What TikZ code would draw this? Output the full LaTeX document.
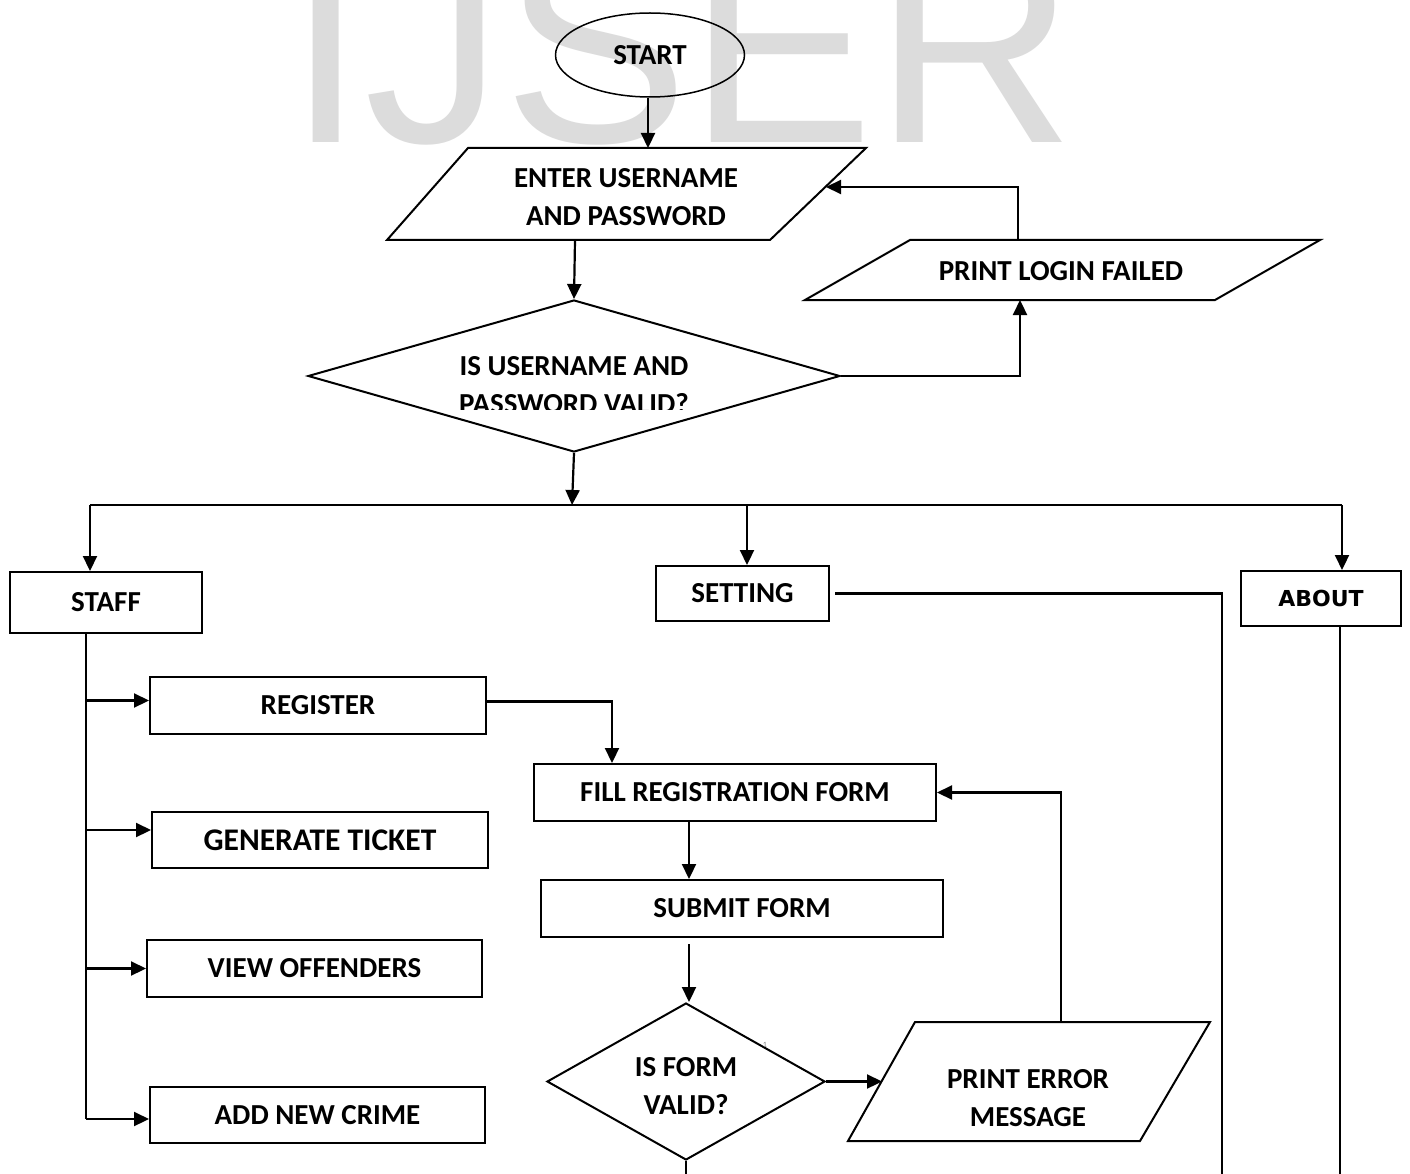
\documentclass[tikz,border=0pt]{standalone}
\usepackage{fontspec}
\setmainfont{Carlito}
\newfontfamily\wmfont{Liberation Sans}
\newfontfamily\aboutfont{DejaVu Sans}
\usetikzlibrary{arrows.meta,shapes.geometric,calc}
\definecolor{wm}{RGB}{220,220,220}
\tikzset{
  lbl/.style={font=\fontsize{29}{38}\selectfont\bfseries, align=center, inner sep=0pt},
  box/.style={draw, line width=2pt, lbl},
  shp/.style={line width=2pt},
  conn/.style={line width=2.2pt},
  arr/.style={conn, -{Triangle[length=15pt,width=14pt]}},
}
\begin{document}
\begin{tikzpicture}[x=1pt,y=-1pt]
\fill[white] (0,0) rectangle (1410,1174);
\useasboundingbox (0,0) rectangle (1410,1174);
% watermark
\begin{scope}
\clip (0,0) rectangle (1410,1174);
\node[anchor=base west, inner sep=0pt, text=wm, font=\wmfont\fontsize{278}{278}\selectfont] (wmark) at (287,143) {IJSER};
\end{scope}

% helper coordinates
\coordinate (bottomEdge) at (0,1174);
\coordinate (x612) at (612,0);
\coordinate (x689) at (689,0);
\coordinate (x1222) at (1222,0);
\coordinate (x1340) at (1340,0);
\coordinate (x86) at (86,0);

% START
\node[ellipse, draw, line width=1.5pt, minimum width=189pt, minimum height=84pt, lbl] (start) at (650,55) {START};

% ENTER USERNAME parallelogram
\draw[shp] (387,240) -- (468,148) -- (866,148) -- (770,240) -- cycle;
\node[lbl] (enter) at (626,197) {ENTER USERNAME\\AND PASSWORD};
\coordinate (enterTop) at (648,148);
\coordinate (enterBot) at (575,240);
\coordinate (enterR) at (826,187);

% decision 1
\node[diamond, draw, line width=2pt, minimum width=532pt, minimum height=152pt, inner sep=0pt] (d1) at (574,376) {};
\begin{scope}
\clip (300,300) rectangle (850,409);
\node[lbl] (d1t) at (574,385) {IS USERNAME AND\\PASSWORD VALID?};
\end{scope}

% PRINT LOGIN FAILED
\draw[shp] (805,300) -- (910,240) -- (1320,240) -- (1215,300) -- cycle;
\node[lbl] (login) at (1061,271) {PRINT LOGIN FAILED};
\coordinate (loginB) at (1020,300);
\coordinate (loginT) at (1018,240);

% bus
\coordinate (busL) at (90,505);
\coordinate (busC) at (572,505);
\coordinate (busS) at (747,505);
\coordinate (busR) at (1342,505);

% menu boxes
\node[box, minimum width=192pt, minimum height=61pt] (staff) at (106,602.5) {STAFF};
\node[box, minimum width=173pt, minimum height=55pt] (setting) at (742.5,593.5) {SETTING};
\node[draw, line width=2pt, inner sep=0pt, minimum width=160pt, minimum height=55pt, font=\aboutfont\bfseries\fontsize{22}{26}\selectfont] (about) at (1321,598.5) {ABOUT};

% staff items
\node[box, minimum width=336pt, minimum height=57pt] (register) at (318,705.5) {REGISTER};
\node[box, minimum width=336pt, minimum height=56pt, font=\fontsize{31.5}{38}\selectfont\bfseries] (generate) at (320,840) {GENERATE TICKET};
\node[box, minimum width=335pt, minimum height=57pt] (view) at (314.5,968.5) {VIEW OFFENDERS};
\node[box, minimum width=335pt, minimum height=56pt] (addcrime) at (317.5,1115) {ADD NEW CRIME};

% registration flow
\node[box, minimum width=402pt, minimum height=57pt] (fill) at (735,792.5) {FILL REGISTRATION FORM};
\node[box, minimum width=402pt, minimum height=57pt] (submit) at (742,908.5) {SUBMIT FORM};
\node[diamond, draw, line width=2pt, minimum width=278pt, minimum height=157pt, inner sep=0pt] (d2) at (686,1081.5) {};
\node[lbl] (d2t) at (686,1086) {IS FORM\\VALID?};
\node[font=\fontsize{8}{8}\selectfont, text=gray, inner sep=0pt] (art) at (765,1045) {1};

% PRINT ERROR MESSAGE
\draw[shp] (848,1141) -- (915,1022) -- (1210,1022) -- (1140,1141) -- cycle;
\node[lbl] (err) at (1028,1098) {PRINT ERROR\\MESSAGE};
\coordinate (errL) at (882,1081.5);
\coordinate (errT) at (1061,1022);

% connectors
\draw[arr] (start.south -| enterTop) -- (enterTop);
\draw[arr] (enterBot) -- (d1.north);
\draw[arr] (d1.east) -| (loginB);
\draw[arr] (loginT) |- (enterR);
\draw[arr] (d1.south) -- (busC);
\draw[conn] (busL) -- (busR);
\draw[arr] (busL) -- (busL |- staff.north);
\draw[arr] (busS) -- (busS |- setting.north);
\draw[arr] (busR) -- (busR |- about.north);

\draw[conn, shorten <=5pt] (setting.east) -| (x1222 |- bottomEdge);
\draw[conn] (about.south -| x1340) -- (x1340 |- bottomEdge);

% staff trunk
\coordinate (gA) at ($(generate.west)+(0,-10)$);
\coordinate (rA) at ($(register.west)+(0,-5)$);
\coordinate (aA) at ($(addcrime.west)+(0,4)$);
\draw[conn] (staff.south -| x86) -- (x86 |- aA);
\draw[arr] (x86 |- rA) -- (rA);
\draw[arr] (x86 |- gA) -- (gA);
\draw[arr] (x86 |- view.west) -- (view.west);
\draw[arr] (x86 |- aA) -- (aA);

% registration connectors
\draw[arr] ($(register.east)+(0,-4)$) -| (x612 |- fill.north);
\draw[arr] (fill.south -| x689) -- (x689 |- submit.north);
\draw[arr, shorten <=6pt] (submit.south -| x689) -- (x689 |- d2.north);
\draw[conn] (d2.south) -- (d2.south |- bottomEdge);
\draw[arr] (d2.east) -- (errL);
\draw[arr] (errT) |- (fill.east);
\end{tikzpicture}
\end{document}
